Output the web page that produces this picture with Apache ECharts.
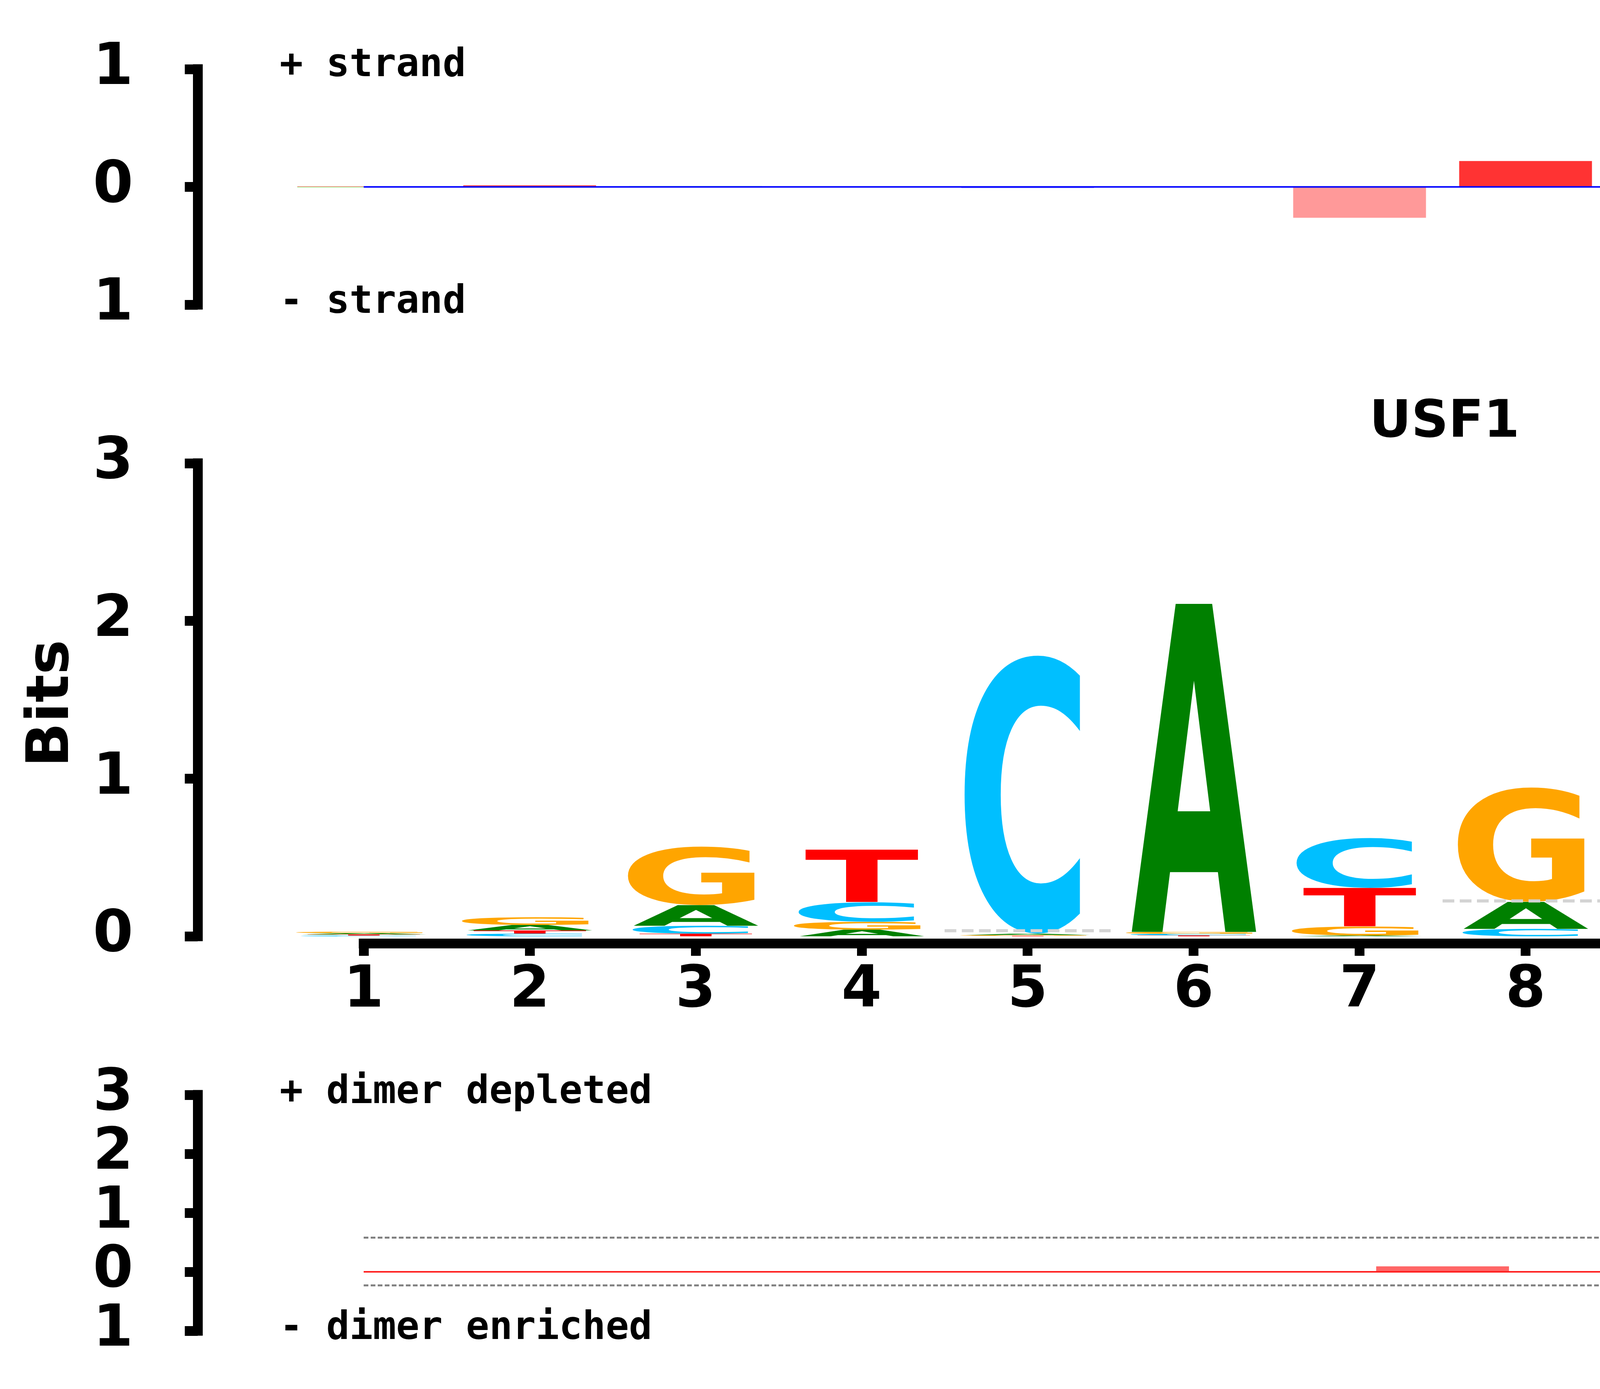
<!DOCTYPE html>
<html>
<head>
<meta charset="utf-8">
<title>USF1 MethylSeqLogo</title>
<script src="https://cdn.jsdelivr.net/npm/echarts@6.0.0/dist/echarts.min.js"></script>
<style>
html, body { margin: 0; padding: 0; background: #fff; }
#logo { width: 7565px; height: 3556px; }
</style>
</head>
<body>
<div id="logo"></div>
<script>
// motif positions
var positions = [1, 2, 3, 4, 5, 6, 7, 8, 9, 10, 11, 12, 13, 14];
var positionLabels = ['1', '2', '3', '4', '5', '6', '7', '8', '9', '10', '11', '12', '13', '14'];

// information (bits) of each base at each position
var bitsA = [0.008, 0.035, 0.131, 0.042, 0.008, 2.083, 0.005, 0.171, 0.004, 0.002, 0.656, 0.015, 0.027, 0.007];
var bitsC = [0.005, 0.017, 0.050, 0.124, 1.770, 0.010, 0.317, 0.047, 0.006, 0.009, 0.067, 0.483, 0.062, 0.009];
var bitsG = [0.009, 0.049, 0.372, 0.050, 0.005, 0.012, 0.057, 0.728, 0.008, 1.790, 0.136, 0.042, 0.015, 0.005];
var bitsT = [0.007, 0.020, 0.017, 0.334, 0.003, 0.006, 0.245, 0.000, 2.137, 0.005, 0.040, 0.154, 0.040, 0.008];
// grey dashed level drawn over some columns
var columnLevel = [null, null, null, null, 0.035, null, null, 0.224, null, 0.027, null, 0.224, null, null];

// methylation entropy per strand
var contextNames = ['CG', 'CHG', 'CHH'];
var contextColors = ['#3333FF', '#33FF33', '#FF3333'];
var contextColorsMinus = ['#9999FF', '#99FF99', '#FF9999'];
var plusStrand = [0.004, 0.013, 0.006, 0, 0, 0, 0, 0.22, 0, 0.008, 0, 0, 0, 0.004];
var plusContext = ['CHH', 'CHH', 'CHG', '', '', '', '', 'CHH', '', 'CG', '', '', '', 'CHH'];
var minusStrand = [0.005, 0, 0, 0, 0.01, 0, 0.262, 0, 0, 0, 0, 0.008, 0.018, 0.006];
var minusContext = ['CHG', '', '', '', 'CG', '', 'CHH', '', '', '', '', 'CHG', 'CHH', 'CHH'];

// dimer panel
var dimerPositions = [1.5, 2.5, 3.5, 4.5, 5.5, 6.5, 7.5, 8.5, 9.5, 10.5, 11.5, 12.5, 13.5];
var dimerValues = [0.012, 0.012, 0, 0, 0, 0, 0.093, 0, 0, 0, 0, 0.012, 0.012];
var dimerMax = 0.58;
var dimerMin = -0.23;

// background composition (right box), bottom to top
var bgLetters = ['T', 'G', 'C', 'A'];
var bgHeights = [0.445, 0.56, 0.575, 0.44];
var bgContexts = ['CHH', 'CHG', 'CG'];
var bgContextHeights = [0.327, 0.32, 0.325];
var bgDashLevels = [0.458, 1.023];

// ---- look ----
var letterColors = { A: '#008000', C: '#00BFFF', G: '#FFA500', T: '#FF0000' };
var letterWidth = { A: 0.755, C: 0.70, G: 0.77, T: 0.685 };
var letterShift = { A: 0, C: -0.035, G: -0.028, T: 0 };
var bgWidth = { A: 0.68, C: 0.625, G: 0.685, T: 0.61 };
var bgCenter = { A: 0.497, C: 0.47, G: 0.475, T: 0.499 };
var LOGO_FONT = 'bold 200px "DejaVu Sans"';
var BAR_W = 0.8;

// layout (pixels)
var AXIS_X = 405;
var FIRST_X = 931, LAST_X = 6455, PANEL_RIGHT = 6700;
var unit = (LAST_X - FIRST_X) / (positions.length - 1);
var xMin = positions[0] - (FIRST_X - AXIS_X) / unit;
var xMax = positions[0] + (PANEL_RIGHT - FIRST_X) / unit;
var MID_TOP = 1186, MID_ZERO = 2397;
var bitPx = (MID_ZERO - MID_TOP) / 3;
var BOX = { left: 6926, top: 1164, right: 7361, bottom: 2419 };

var letters = ['A', 'C', 'G', 'T'];
var bits = { A: bitsA, C: bitsC, G: bitsG, T: bitsT };

// glyph ink box measured with the same settings zrender uses
var mctx = document.createElement('canvas').getContext('2d');
var inkCache = {};
function ink(text, font) {
    var key = font + '|' + text;
    if (!inkCache[key]) {
        mctx.font = font;
        mctx.textAlign = 'center';
        mctx.textBaseline = 'middle';
        var m = mctx.measureText(text);
        inkCache[key] = {
            l: m.actualBoundingBoxLeft, r: m.actualBoundingBoxRight,
            a: m.actualBoundingBoxAscent, d: m.actualBoundingBoxDescent
        };
    }
    return inkCache[key];
}

// stretch a glyph so its ink fills the box
function fitText(text, x0, x1, yTop, yBot, style) {
    var b = ink(text, LOGO_FONT);
    var sx = (x1 - x0) / (b.l + b.r);
    var sy = (yBot - yTop) / (b.a + b.d);
    var st = {
        text: text, x: 0, y: 0, font: LOGO_FONT,
        fontSize: 200, fontWeight: 'bold', fontFamily: 'DejaVu Sans',
        align: 'center', verticalAlign: 'middle',
        textAlign: 'center', textVerticalAlign: 'middle'
    };
    for (var k in style) st[k] = style[k];
    return {
        type: 'text',
        x: x0 + sx * b.l, y: yTop + sy * b.a,
        scaleX: sx, scaleY: sy,
        style: st
    };
}

function dashLine(a, b, width, dash) {
    return {
        type: 'line',
        shape: { x1: a[0], y1: a[1], x2: b[0], y2: b[1] },
        style: { stroke: '#D3D3D3', lineWidth: width, lineDash: dash }
    };
}

function renderLogo(params, api) {
    var i = params.dataIndex;
    var p = positions[i];
    var stack = [];
    letters.forEach(function (L) {
        if (bits[L][i] > 0) stack.push({ L: L, h: bits[L][i] });
    });
    stack.sort(function (a, b) { return a.h - b.h; });
    var base = 0;
    var children = [];
    stack.forEach(function (s) {
        var c = p + letterShift[s.L];
        var lb = api.coord([c - letterWidth[s.L] / 2, base]);
        var rt = api.coord([c + letterWidth[s.L] / 2, base + s.h]);
        if (lb[1] - rt[1] > 0.3) {
            children.push(fitText(s.L, lb[0], rt[0], rt[1], lb[1], { fill: letterColors[s.L] }));
        }
        base += s.h;
    });
    if (columnLevel[i] != null) {
        children.push(dashLine(api.coord([p - 0.5, columnLevel[i]]), api.coord([p + 0.5, columnLevel[i]]), 8, [30, 14]));
    }
    return { type: 'group', children: children };
}

function renderBackground(params, api) {
    var children = [];
    var base = 0;
    bgLetters.forEach(function (L, k) {
        var lb = api.coord([bgCenter[L] - bgWidth[L] / 2, base]);
        var rt = api.coord([bgCenter[L] + bgWidth[L] / 2, base + bgHeights[k]]);
        children.push(fitText(L, lb[0], rt[0], rt[1], lb[1], { fill: letterColors[L] }));
        base += bgHeights[k];
    });
    var fullW = ink('CHG', LOGO_FONT);
    bgContexts.forEach(function (t, k) {
        var w = 0.717 * (ink(t, LOGO_FONT).l + ink(t, LOGO_FONT).r) / (fullW.l + fullW.r);
        var lb = api.coord([0.1425, base]);
        var rt = api.coord([0.1425 + w, base + bgContextHeights[k]]);
        children.push(fitText(t, lb[0], rt[0], rt[1], lb[1], { fill: '#fff', stroke: '#000', lineWidth: 12 }));
        base += bgContextHeights[k];
    });
    bgDashLevels.forEach(function (v) {
        children.push(dashLine(api.coord([0.08, v]), api.coord([0.915, v]), 8, [32, 12]));
    });
    return { type: 'group', children: children };
}

function renderStrand(params, api) {
    var p = api.value(0), v = api.value(1), c = api.value(2), s = api.value(3);
    var a = api.coord([p - BAR_W / 2, 0]);
    var b = api.coord([p + BAR_W / 2, v]);
    return {
        type: 'rect',
        shape: { x: a[0], y: Math.min(a[1], b[1]), width: b[0] - a[0], height: Math.max(1, Math.abs(b[1] - a[1])) },
        style: { fill: s > 0 ? contextColors[c] : contextColorsMinus[c] }
    };
}

function renderDimer(params, api) {
    var p = api.value(0), v = api.value(1);
    var a = api.coord([p - BAR_W / 2, 0]);
    var b = api.coord([p + BAR_W / 2, v]);
    return {
        type: 'rect',
        shape: { x: a[0], y: Math.min(a[1], b[1]), width: b[0] - a[0], height: Math.max(1, Math.abs(b[1] - a[1])) },
        style: { fill: '#FF6666' }
    };
}

var strandData = [];
positions.forEach(function (p, i) {
    if (plusStrand[i] > 0) strandData.push([p, plusStrand[i], contextNames.indexOf(plusContext[i]), 1]);
    if (minusStrand[i] > 0) strandData.push([p, -minusStrand[i], contextNames.indexOf(minusContext[i]), -1]);
});
var dimerData = [];
dimerPositions.forEach(function (p, i) {
    if (dimerValues[i] !== 0) dimerData.push([p, dimerValues[i]]);
});
var logoData = positions.map(function (p, i) {
    return [p, bitsA[i] + bitsC[i] + bitsG[i] + bitsT[i]];
});

var tickFont = { color: '#000', fontSize: 148, fontWeight: 'bold', fontFamily: 'DejaVu Sans' };
function yAxisOf(grid, min, max, absLabels) {
    return {
        type: 'value', gridIndex: grid, min: min, max: max, interval: 1,
        axisLine: { show: true, lineStyle: { color: '#000', width: 25, cap: 'square' } },
        axisTick: { show: true, length: 33, lineStyle: { color: '#000', width: 25 } },
        axisLabel: Object.assign({ margin: 64, formatter: function (v) { return absLabels ? String(Math.abs(v)) : String(v); } }, tickFont),
        splitLine: { show: false }
    };
}
function hiddenX(grid, min, max) {
    return { type: 'value', gridIndex: grid, min: min, max: max, show: false, splitLine: { show: false } };
}

function monoText(text, x, y) {
    return {
        type: 'text', x: x, y: y,
        style: { text: text, font: 'bold 99px "DejaVu Sans Mono"', fill: '#000', align: 'left', verticalAlign: 'middle', textAlign: 'left', textVerticalAlign: 'middle' }
    };
}
function plainText(text, x, y, font, fill, align) {
    return {
        type: 'text', x: x, y: y,
        style: { text: text, font: font, fill: fill, align: align, verticalAlign: 'middle', textAlign: align, textVerticalAlign: 'middle' }
    };
}

var legendChildren = [{
    type: 'rect', shape: { x: 6926, y: 202, width: 507, height: 287 },
    style: { fill: '#fff', stroke: '#000', lineWidth: 12 }
}];
contextNames.forEach(function (name, k) {
    legendChildren.push({ type: 'rect', shape: { x: 6961, y: 235 + k * 75.5, width: 73, height: 60 }, style: { fill: contextColors[k] } });
    legendChildren.push(plainText(name, 7088, 263 + k * 75.5, 'bold 101px "DejaVu Sans Mono"', '#000', 'left'));
});

var myChart = echarts.init(document.getElementById('logo'));

var option = {
    animation: false,
    backgroundColor: '#fff',
    title: {
        text: 'USF1',
        left: (FIRST_X + LAST_X) / 2,
        top: 1013,
        textAlign: 'center',
        textStyle: { color: '#000', fontSize: 132, fontWeight: 'bold', fontFamily: 'DejaVu Sans' }
    },
    grid: [
        { left: AXIS_X, top: 177, width: PANEL_RIGHT - AXIS_X, height: 603 },
        { left: AXIS_X, top: MID_TOP, width: PANEL_RIGHT - AXIS_X, height: MID_ZERO - MID_TOP },
        { left: FIRST_X, top: 2414, width: LAST_X - FIRST_X, height: 1 },
        { left: AXIS_X, top: 2803, width: PANEL_RIGHT - AXIS_X, height: 604 },
        { left: BOX.left, top: BOX.top, width: BOX.right - BOX.left, height: BOX.bottom - BOX.top,
          show: true, borderColor: '#000', borderWidth: 12, backgroundColor: 'transparent' }
    ],
    xAxis: [
        hiddenX(0, xMin, xMax),
        hiddenX(1, xMin, xMax),
        {
            type: 'category', gridIndex: 2, data: positionLabels, boundaryGap: false,
            axisLine: { show: true, lineStyle: { color: '#000', width: 25, cap: 'square' } },
            axisTick: { show: true, length: 32, interval: 0, lineStyle: { color: '#000', width: 25 } },
            axisLabel: Object.assign({ margin: 50, interval: 0 }, tickFont),
            splitLine: { show: false }
        },
        hiddenX(3, xMin, xMax),
        hiddenX(4, 0, 1)
    ],
    yAxis: [
        yAxisOf(0, -1, 1, true),
        yAxisOf(1, 0, 3, false),
        { type: 'value', gridIndex: 2, show: false, min: 0, max: 1, splitLine: { show: false } },
        yAxisOf(3, -1, 3, true),
        { type: 'value', gridIndex: 4, show: false, splitLine: { show: false },
          min: -(BOX.bottom - MID_ZERO) / bitPx, max: (MID_ZERO - BOX.top) / bitPx }
    ],
    series: [
        {
            name: 'strand entropy', type: 'custom', xAxisIndex: 0, yAxisIndex: 0,
            renderItem: renderStrand, data: strandData, encode: { x: 0, y: 1 }, silent: true
        },
        {
            name: 'strand zero', type: 'line', xAxisIndex: 0, yAxisIndex: 0, symbol: 'none', silent: true, z: 5,
            data: positions.map(function (p) { return [p, 0]; }),
            lineStyle: { color: '#0000FF', width: 4 }
        },
        {
            name: 'USF1', type: 'custom', xAxisIndex: 1, yAxisIndex: 1,
            renderItem: renderLogo, data: logoData, encode: { x: 0, y: 1 }, silent: true
        },
        {
            name: 'dimer', type: 'custom', xAxisIndex: 3, yAxisIndex: 3,
            renderItem: renderDimer, data: dimerData, encode: { x: 0, y: 1 }, silent: true
        },
        {
            name: 'dimer zero', type: 'line', xAxisIndex: 3, yAxisIndex: 3, symbol: 'none', silent: true, z: 5,
            data: positions.map(function (p) { return [p, 0]; }),
            lineStyle: { color: '#FF2020', width: 4 }
        },
        {
            name: 'dimer max', type: 'line', xAxisIndex: 3, yAxisIndex: 3, symbol: 'none', silent: true,
            data: positions.map(function (p) { return [p, dimerMax]; }),
            lineStyle: { color: '#808080', width: 5, type: [12, 6] }
        },
        {
            name: 'dimer min', type: 'line', xAxisIndex: 3, yAxisIndex: 3, symbol: 'none', silent: true,
            data: positions.map(function (p) { return [p, dimerMin]; }),
            lineStyle: { color: '#808080', width: 5, type: [12, 6] }
        },
        {
            name: 'background', type: 'custom', xAxisIndex: 4, yAxisIndex: 4,
            renderItem: renderBackground, data: [[0.5, 0]], encode: { x: 0, y: 1 }, silent: true
        }
    ],
    graphic: [
        plainText('Bits', 135, 1801, 'bold 150px "DejaVu Sans"', '#000', 'center'),
        monoText('+ strand', 716, 169),
        monoText('- strand', 716, 775),
        monoText('+ dimer depleted', 716, 2798),
        monoText('- dimer enriched', 716, 3402),
        plainText('Entropy from:', 7179, 96, 'bold 82px "DejaVu Sans"', '#000', 'center'),
        plainText('MethylSeqLogo', 7151, 2555, 'bold 82px "DejaVu Sans"', '#000', 'center'),
        plainText('max = ' + dimerMax, 6712, 3163, '82px "DejaVu Sans"', '#AAAAAA', 'left'),
        plainText('min = ' + dimerMin, 6712, 3286, '82px "DejaVu Sans"', '#AAAAAA', 'left'),
        { type: 'group', children: legendChildren }
    ]
};
option.graphic[0].rotation = Math.PI / 2;

myChart.setOption(option);
</script>
</body>
</html>
